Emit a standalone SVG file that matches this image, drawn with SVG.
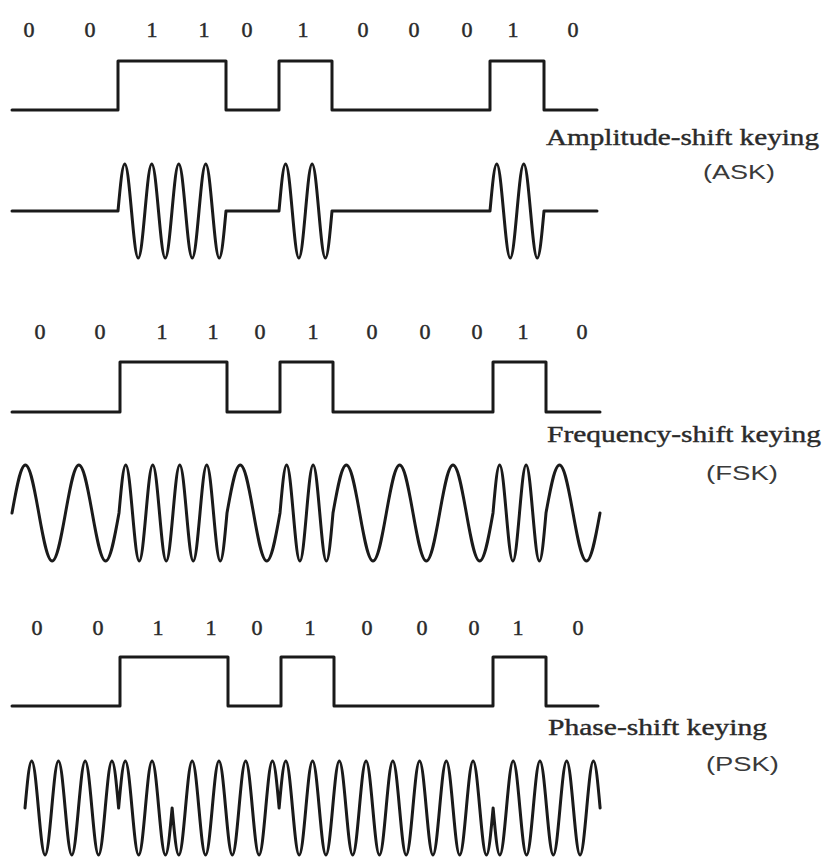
<svg xmlns="http://www.w3.org/2000/svg" width="824" height="860" viewBox="0 0 824 860">
<style>
.sig{fill:none;stroke:#1a1a1a;stroke-width:3;stroke-linejoin:round;stroke-linecap:round}
.bits{font-family:"Liberation Serif","Times New Roman",serif;font-size:22px;fill:#2a2a2a;stroke:#2a2a2a;stroke-width:0.5;text-anchor:middle}
.lbl{font-family:"Liberation Serif","Times New Roman",serif;font-size:24px;fill:#2a2a2a;stroke:#2a2a2a;stroke-width:0.4}
.abbr{font-family:"Liberation Sans",Arial,sans-serif;font-size:21px;fill:#3a3a3a}
</style>
<rect width="824" height="860" fill="#ffffff"/>

<g id="ask">
<text class="bits" y="37"><tspan x="29">0</tspan><tspan x="90">0</tspan><tspan x="152">1</tspan><tspan x="204">1</tspan><tspan x="247">0</tspan><tspan x="303">1</tspan><tspan x="363">0</tspan><tspan x="414">0</tspan><tspan x="467">0</tspan><tspan x="513">1</tspan><tspan x="573">0</tspan></text>
<path class="sig" d="M12,110 H118 V61 H226 V110 H279 V61 H332 V110 H490 V61 H544 V110 H597"/>
<path class="sig" d="M12,211 H118
c2.2,-24.08 4.31,-47 6.75,-47 c2.44,0 4.55,22.92 6.75,47 c2.2,24.08 4.31,47 6.75,47 c2.44,0 4.55,-22.92 6.75,-47
c2.2,-24.08 4.31,-47 6.75,-47 c2.44,0 4.55,22.92 6.75,47 c2.2,24.08 4.31,47 6.75,47 c2.44,0 4.55,-22.92 6.75,-47
c2.2,-24.08 4.31,-47 6.75,-47 c2.44,0 4.55,22.92 6.75,47 c2.2,24.08 4.31,47 6.75,47 c2.44,0 4.55,-22.92 6.75,-47
c2.2,-24.08 4.31,-47 6.75,-47 c2.44,0 4.55,22.92 6.75,47 c2.2,24.08 4.31,47 6.75,47 c2.44,0 4.55,-22.92 6.75,-47
H279
c2.16,-24.08 4.23,-47 6.625,-47 c2.4,0 4.46,22.92 6.625,47 c2.16,24.08 4.23,47 6.625,47 c2.4,0 4.46,-22.92 6.625,-47
c2.16,-24.08 4.23,-47 6.625,-47 c2.4,0 4.46,22.92 6.625,47 c2.16,24.08 4.23,47 6.625,47 c2.4,0 4.46,-22.92 6.625,-47
H490
c2.2,-24.08 4.31,-47 6.75,-47 c2.44,0 4.55,22.92 6.75,47 c2.2,24.08 4.31,47 6.75,47 c2.44,0 4.55,-22.92 6.75,-47
c2.2,-24.08 4.31,-47 6.75,-47 c2.44,0 4.55,22.92 6.75,47 c2.2,24.08 4.31,47 6.75,47 c2.44,0 4.55,-22.92 6.75,-47
H597"/>
<text class="lbl" x="546" y="145" textLength="273" lengthAdjust="spacingAndGlyphs">Amplitude-shift keying</text>
<text class="abbr" x="703" y="179" textLength="72" lengthAdjust="spacingAndGlyphs">(ASK)</text>
</g>

<g id="fsk">
<text class="bits" y="339"><tspan x="40">0</tspan><tspan x="100">0</tspan><tspan x="162">1</tspan><tspan x="213">1</tspan><tspan x="260">0</tspan><tspan x="313">1</tspan><tspan x="372">0</tspan><tspan x="425">0</tspan><tspan x="477">0</tspan><tspan x="523">1</tspan><tspan x="582">0</tspan></text>
<path class="sig" d="M12,412 H120 V362 H227 V412 H280 V362 H333 V412 H493 V362 H546 V412 H600"/>
<path class="sig" d="M12,513
c4.36,-24.59 8.53,-48 13.375,-48 c4.84,0 9.01,23.41 13.375,48 c4.36,24.59 8.53,48 13.375,48 c4.84,0 9.01,-23.41 13.375,-48
c4.36,-24.59 8.53,-48 13.375,-48 c4.84,0 9.01,23.41 13.375,48 c4.36,24.59 8.53,48 13.375,48 c4.84,0 9.01,-23.41 13.375,-48
c2.2,-24.59 4.31,-48 6.75,-48 c2.44,0 4.55,23.41 6.75,48 c2.2,24.59 4.31,48 6.75,48 c2.44,0 4.55,-23.41 6.75,-48
c2.2,-24.59 4.31,-48 6.75,-48 c2.44,0 4.55,23.41 6.75,48 c2.2,24.59 4.31,48 6.75,48 c2.44,0 4.55,-23.41 6.75,-48
c2.2,-24.59 4.31,-48 6.75,-48 c2.44,0 4.55,23.41 6.75,48 c2.2,24.59 4.31,48 6.75,48 c2.44,0 4.55,-23.41 6.75,-48
c2.2,-24.59 4.31,-48 6.75,-48 c2.44,0 4.55,23.41 6.75,48 c2.2,24.59 4.31,48 6.75,48 c2.44,0 4.55,-23.41 6.75,-48
c4.32,-24.59 8.45,-48 13.25,-48 c4.8,0 8.93,23.41 13.25,48 c4.32,24.59 8.45,48 13.25,48 c4.8,0 8.93,-23.41 13.25,-48
c2.16,-24.59 4.23,-48 6.625,-48 c2.4,0 4.46,23.41 6.625,48 c2.16,24.59 4.23,48 6.625,48 c2.4,0 4.46,-23.41 6.625,-48
c2.16,-24.59 4.23,-48 6.625,-48 c2.4,0 4.46,23.41 6.625,48 c2.16,24.59 4.23,48 6.625,48 c2.4,0 4.46,-23.41 6.625,-48
c4.35,-24.59 8.51,-48 13.3333,-48 c4.83,0 8.99,23.41 13.3333,48 c4.35,24.59 8.51,48 13.3333,48 c4.83,0 8.99,-23.41 13.3333,-48
c4.35,-24.59 8.51,-48 13.3333,-48 c4.83,0 8.99,23.41 13.3333,48 c4.35,24.59 8.51,48 13.3333,48 c4.83,0 8.99,-23.41 13.3333,-48
c4.35,-24.59 8.51,-48 13.3333,-48 c4.83,0 8.99,23.41 13.3333,48 c4.35,24.59 8.51,48 13.3333,48 c4.83,0 8.99,-23.41 13.3333,-48
c2.16,-24.59 4.23,-48 6.625,-48 c2.4,0 4.46,23.41 6.625,48 c2.16,24.59 4.23,48 6.625,48 c2.4,0 4.46,-23.41 6.625,-48
c2.16,-24.59 4.23,-48 6.625,-48 c2.4,0 4.46,23.41 6.625,48 c2.16,24.59 4.23,48 6.625,48 c2.4,0 4.46,-23.41 6.625,-48
c4.4,-24.59 8.61,-48 13.5,-48 c4.89,0 9.1,23.41 13.5,48 c4.4,24.59 8.61,48 13.5,48 c4.89,0 9.1,-23.41 13.5,-48"/>
<text class="lbl" x="547" y="442" textLength="274" lengthAdjust="spacingAndGlyphs">Frequency-shift keying</text>
<text class="abbr" x="706" y="480" textLength="72" lengthAdjust="spacingAndGlyphs">(FSK)</text>
</g>

<g id="psk">
<text class="bits" y="635"><tspan x="37">0</tspan><tspan x="98">0</tspan><tspan x="158">1</tspan><tspan x="211">1</tspan><tspan x="257">0</tspan><tspan x="310">1</tspan><tspan x="367">0</tspan><tspan x="422">0</tspan><tspan x="474">0</tspan><tspan x="518">1</tspan><tspan x="578">0</tspan></text>
<path class="sig" d="M12,706 H120 V657 H228 V706 H281 V657 H334 V706 H493 V657 H546 V706 H598"/>
<path class="sig" d="M25,808
c2.18,-24.08 4.27,-47 6.6875,-47 c2.42,0 4.51,22.92 6.6875,47 c2.18,24.08 4.27,47 6.6875,47 c2.42,0 4.51,-22.92 6.6875,-47
c2.18,-24.08 4.27,-47 6.6875,-47 c2.42,0 4.51,22.92 6.6875,47 c2.18,24.08 4.27,47 6.6875,47 c2.42,0 4.51,-22.92 6.6875,-47
c2.18,-24.08 4.27,-47 6.6875,-47 c2.42,0 4.51,22.92 6.6875,47 c2.18,24.08 4.27,47 6.6875,47 c2.42,0 4.51,-22.92 6.6875,-47
c2.18,-24.08 4.27,-47 6.6875,-47 c2.42,0 4.51,22.92 6.6875,47
c2.18,-24.08 4.27,-47 6.6875,-47 c2.42,0 4.51,22.92 6.6875,47 c2.18,24.08 4.27,47 6.6875,47 c2.42,0 4.51,-22.92 6.6875,-47
c2.18,-24.08 4.27,-47 6.6875,-47 c2.42,0 4.51,22.92 6.6875,47 c2.18,24.08 4.27,47 6.6875,47 c2.42,0 4.51,-22.92 6.6875,-47
c2.18,24.08 4.27,47 6.6875,47 c2.42,0 4.51,-22.92 6.6875,-47 c2.18,-24.08 4.27,-47 6.6875,-47 c2.42,0 4.51,22.92 6.6875,47
c2.18,24.08 4.27,47 6.6875,47 c2.42,0 4.51,-22.92 6.6875,-47 c2.18,-24.08 4.27,-47 6.6875,-47 c2.42,0 4.51,22.92 6.6875,47
c2.18,24.08 4.27,47 6.6875,47 c2.42,0 4.51,-22.92 6.6875,-47 c2.18,-24.08 4.27,-47 6.6875,-47 c2.42,0 4.51,22.92 6.6875,47
c2.18,24.08 4.27,47 6.6875,47 c2.42,0 4.51,-22.92 6.6875,-47 c2.18,-24.08 4.27,-47 6.6875,-47 c2.42,0 4.51,22.92 6.6875,47
c2.18,-24.08 4.27,-47 6.6875,-47 c2.42,0 4.51,22.92 6.6875,47 c2.18,24.08 4.27,47 6.6875,47 c2.42,0 4.51,-22.92 6.6875,-47
c2.18,-24.08 4.27,-47 6.6875,-47 c2.42,0 4.51,22.92 6.6875,47 c2.18,24.08 4.27,47 6.6875,47 c2.42,0 4.51,-22.92 6.6875,-47
c2.18,-24.08 4.27,-47 6.6875,-47 c2.42,0 4.51,22.92 6.6875,47 c2.18,24.08 4.27,47 6.6875,47 c2.42,0 4.51,-22.92 6.6875,-47
c2.18,-24.08 4.27,-47 6.6875,-47 c2.42,0 4.51,22.92 6.6875,47 c2.18,24.08 4.27,47 6.6875,47 c2.42,0 4.51,-22.92 6.6875,-47
c2.18,-24.08 4.27,-47 6.6875,-47 c2.42,0 4.51,22.92 6.6875,47 c2.18,24.08 4.27,47 6.6875,47 c2.42,0 4.51,-22.92 6.6875,-47
c2.18,-24.08 4.27,-47 6.6875,-47 c2.42,0 4.51,22.92 6.6875,47 c2.18,24.08 4.27,47 6.6875,47 c2.42,0 4.51,-22.92 6.6875,-47
c2.18,-24.08 4.27,-47 6.6875,-47 c2.42,0 4.51,22.92 6.6875,47 c2.18,24.08 4.27,47 6.6875,47 c2.42,0 4.51,-22.92 6.6875,-47
c2.18,-24.08 4.27,-47 6.6875,-47 c2.42,0 4.51,22.92 6.6875,47 c2.18,24.08 4.27,47 6.6875,47 c2.42,0 4.51,-22.92 6.6875,-47
c2.18,24.08 4.27,47 6.6875,47 c2.42,0 4.51,-22.92 6.6875,-47 c2.18,-24.08 4.27,-47 6.6875,-47 c2.42,0 4.51,22.92 6.6875,47
c2.18,24.08 4.27,47 6.6875,47 c2.42,0 4.51,-22.92 6.6875,-47 c2.18,-24.08 4.27,-47 6.6875,-47 c2.42,0 4.51,22.92 6.6875,47
c2.18,24.08 4.27,47 6.6875,47 c2.42,0 4.51,-22.92 6.6875,-47 c2.18,-24.08 4.27,-47 6.6875,-47 c2.42,0 4.51,22.92 6.6875,47
c2.18,24.08 4.27,47 6.6875,47 c2.42,0 4.51,-22.92 6.6875,-47 c2.18,-24.08 4.27,-47 6.6875,-47 c2.42,0 4.51,22.92 6.6875,47"/>
<text class="lbl" x="548" y="735" textLength="219" lengthAdjust="spacingAndGlyphs">Phase-shift keying</text>
<text class="abbr" x="706" y="771" textLength="73" lengthAdjust="spacingAndGlyphs">(PSK)</text>
</g>
</svg>
